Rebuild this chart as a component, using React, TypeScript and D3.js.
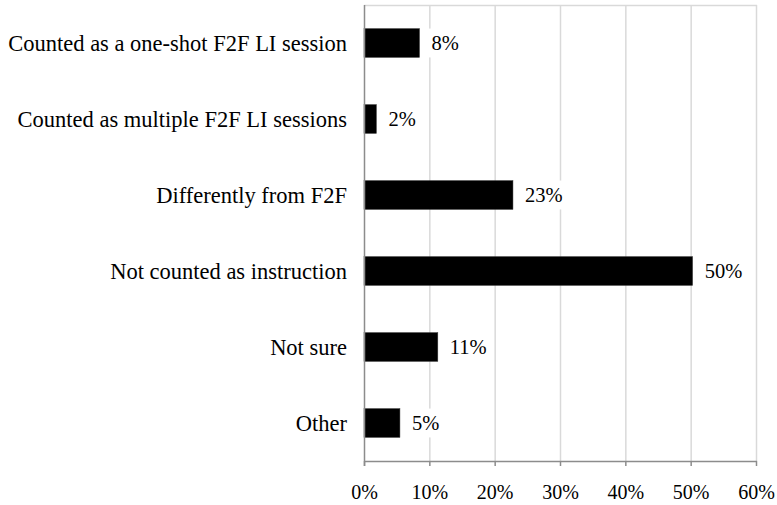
import React from 'react';
import * as d3 from 'd3';

const categories = [
  'Counted as a one-shot F2F LI session',
  'Counted as multiple F2F LI sessions',
  'Differently from F2F',
  'Not counted as instruction',
  'Not sure',
  'Other',
];
const shares = [0.085, 0.019, 0.228, 0.503, 0.113, 0.055];
const shareLabels = ['8%', '2%', '23%', '50%', '11%', '5%'];
const xTicks = [0, 0.1, 0.2, 0.3, 0.4, 0.5, 0.6];

const FONT = 'Liberation Serif';
const W = 777;
const H = 505;
const left = 364;
const right = 756;
const top = 5;
const bottom = 461;

// rough text width for the white label boxes
const measure = (s: string, size: number) => {
  const c = document.createElement('canvas').getContext('2d');
  if (!c) return s.length * size * 0.55;
  c.font = `${size}px "${FONT}"`;
  return c.measureText(s).width;
};

const App: React.FC = () => {
  const x = d3.scaleLinear().domain([0, 0.6]).range([left, right]);
  const y = d3.scaleBand<string>()
    .domain(categories)
    .range([top, bottom])
    .paddingInner(0.62)
    .paddingOuter(0.31);
  const bw = y.bandwidth();
  const pct = d3.format('.0%');

  return (
    <svg width={W} height={H} style={{ position: 'absolute', left: 0, top: 0, background: '#fff' }}>
      {/* gridlines */}
      {xTicks.slice(1).map(t => (
        <line key={'g' + t} x1={x(t) + 0.5} x2={x(t) + 0.5} y1={top} y2={bottom}
          stroke="#d9d9d9" strokeWidth={1.5} />
      ))}
      <line x1={left} x2={right + 1} y1={top + 0.5} y2={top + 0.5} stroke="#d9d9d9" strokeWidth={1.5} />

      {/* bars */}
      {categories.map((c, i) => (
        <rect key={'b' + c} x={x(0)} y={y(c)} width={x(shares[i]) - x(0)} height={bw}
          fill="#000" stroke="#404040" strokeWidth={0.5} />
      ))}

      {/* data labels */}
      {categories.map((c, i) => {
        const cy = (y(c) as number) + bw / 2;
        const tx = x(shares[i]) + 12;
        const tw = measure(shareLabels[i], 20.5);
        return (
          <g key={'l' + c}>
            <rect x={tx - 6} y={cy - bw / 2} width={tw + 12} height={bw} fill="#fff" />
            <text x={tx} y={cy + 6.8} fill="#000" style={{ fontFamily: FONT, fontSize: 20.5 }}>
              {shareLabels[i]}
            </text>
          </g>
        );
      })}

      {/* category labels */}
      {categories.map(c => (
        <text key={'c' + c} x={347} y={(y(c) as number) + bw / 2 + 7.5} textAnchor="end"
          fill="#000" style={{ fontFamily: FONT, fontSize: 22.5 }}>
          {c}
        </text>
      ))}

      {/* axes */}
      <line x1={left + 0.5} x2={left + 0.5} y1={top} y2={bottom + 5} stroke="#8c8c8c" strokeWidth={1.5} />
      <line x1={left} x2={right + 1} y1={bottom + 0.5} y2={bottom + 0.5} stroke="#8c8c8c" strokeWidth={1.5} />
      {xTicks.map(t => (
        <g key={'t' + t}>
          <line x1={x(t) + 0.5} x2={x(t) + 0.5} y1={bottom} y2={bottom + 5} stroke="#8c8c8c" strokeWidth={1.5} />
          <text x={x(t) + 0.5} y={498.5} textAnchor="middle" fill="#000"
            style={{ fontFamily: FONT, fontSize: 20 }}>
            {pct(t)}
          </text>
        </g>
      ))}
    </svg>
  );
};

export default App;
